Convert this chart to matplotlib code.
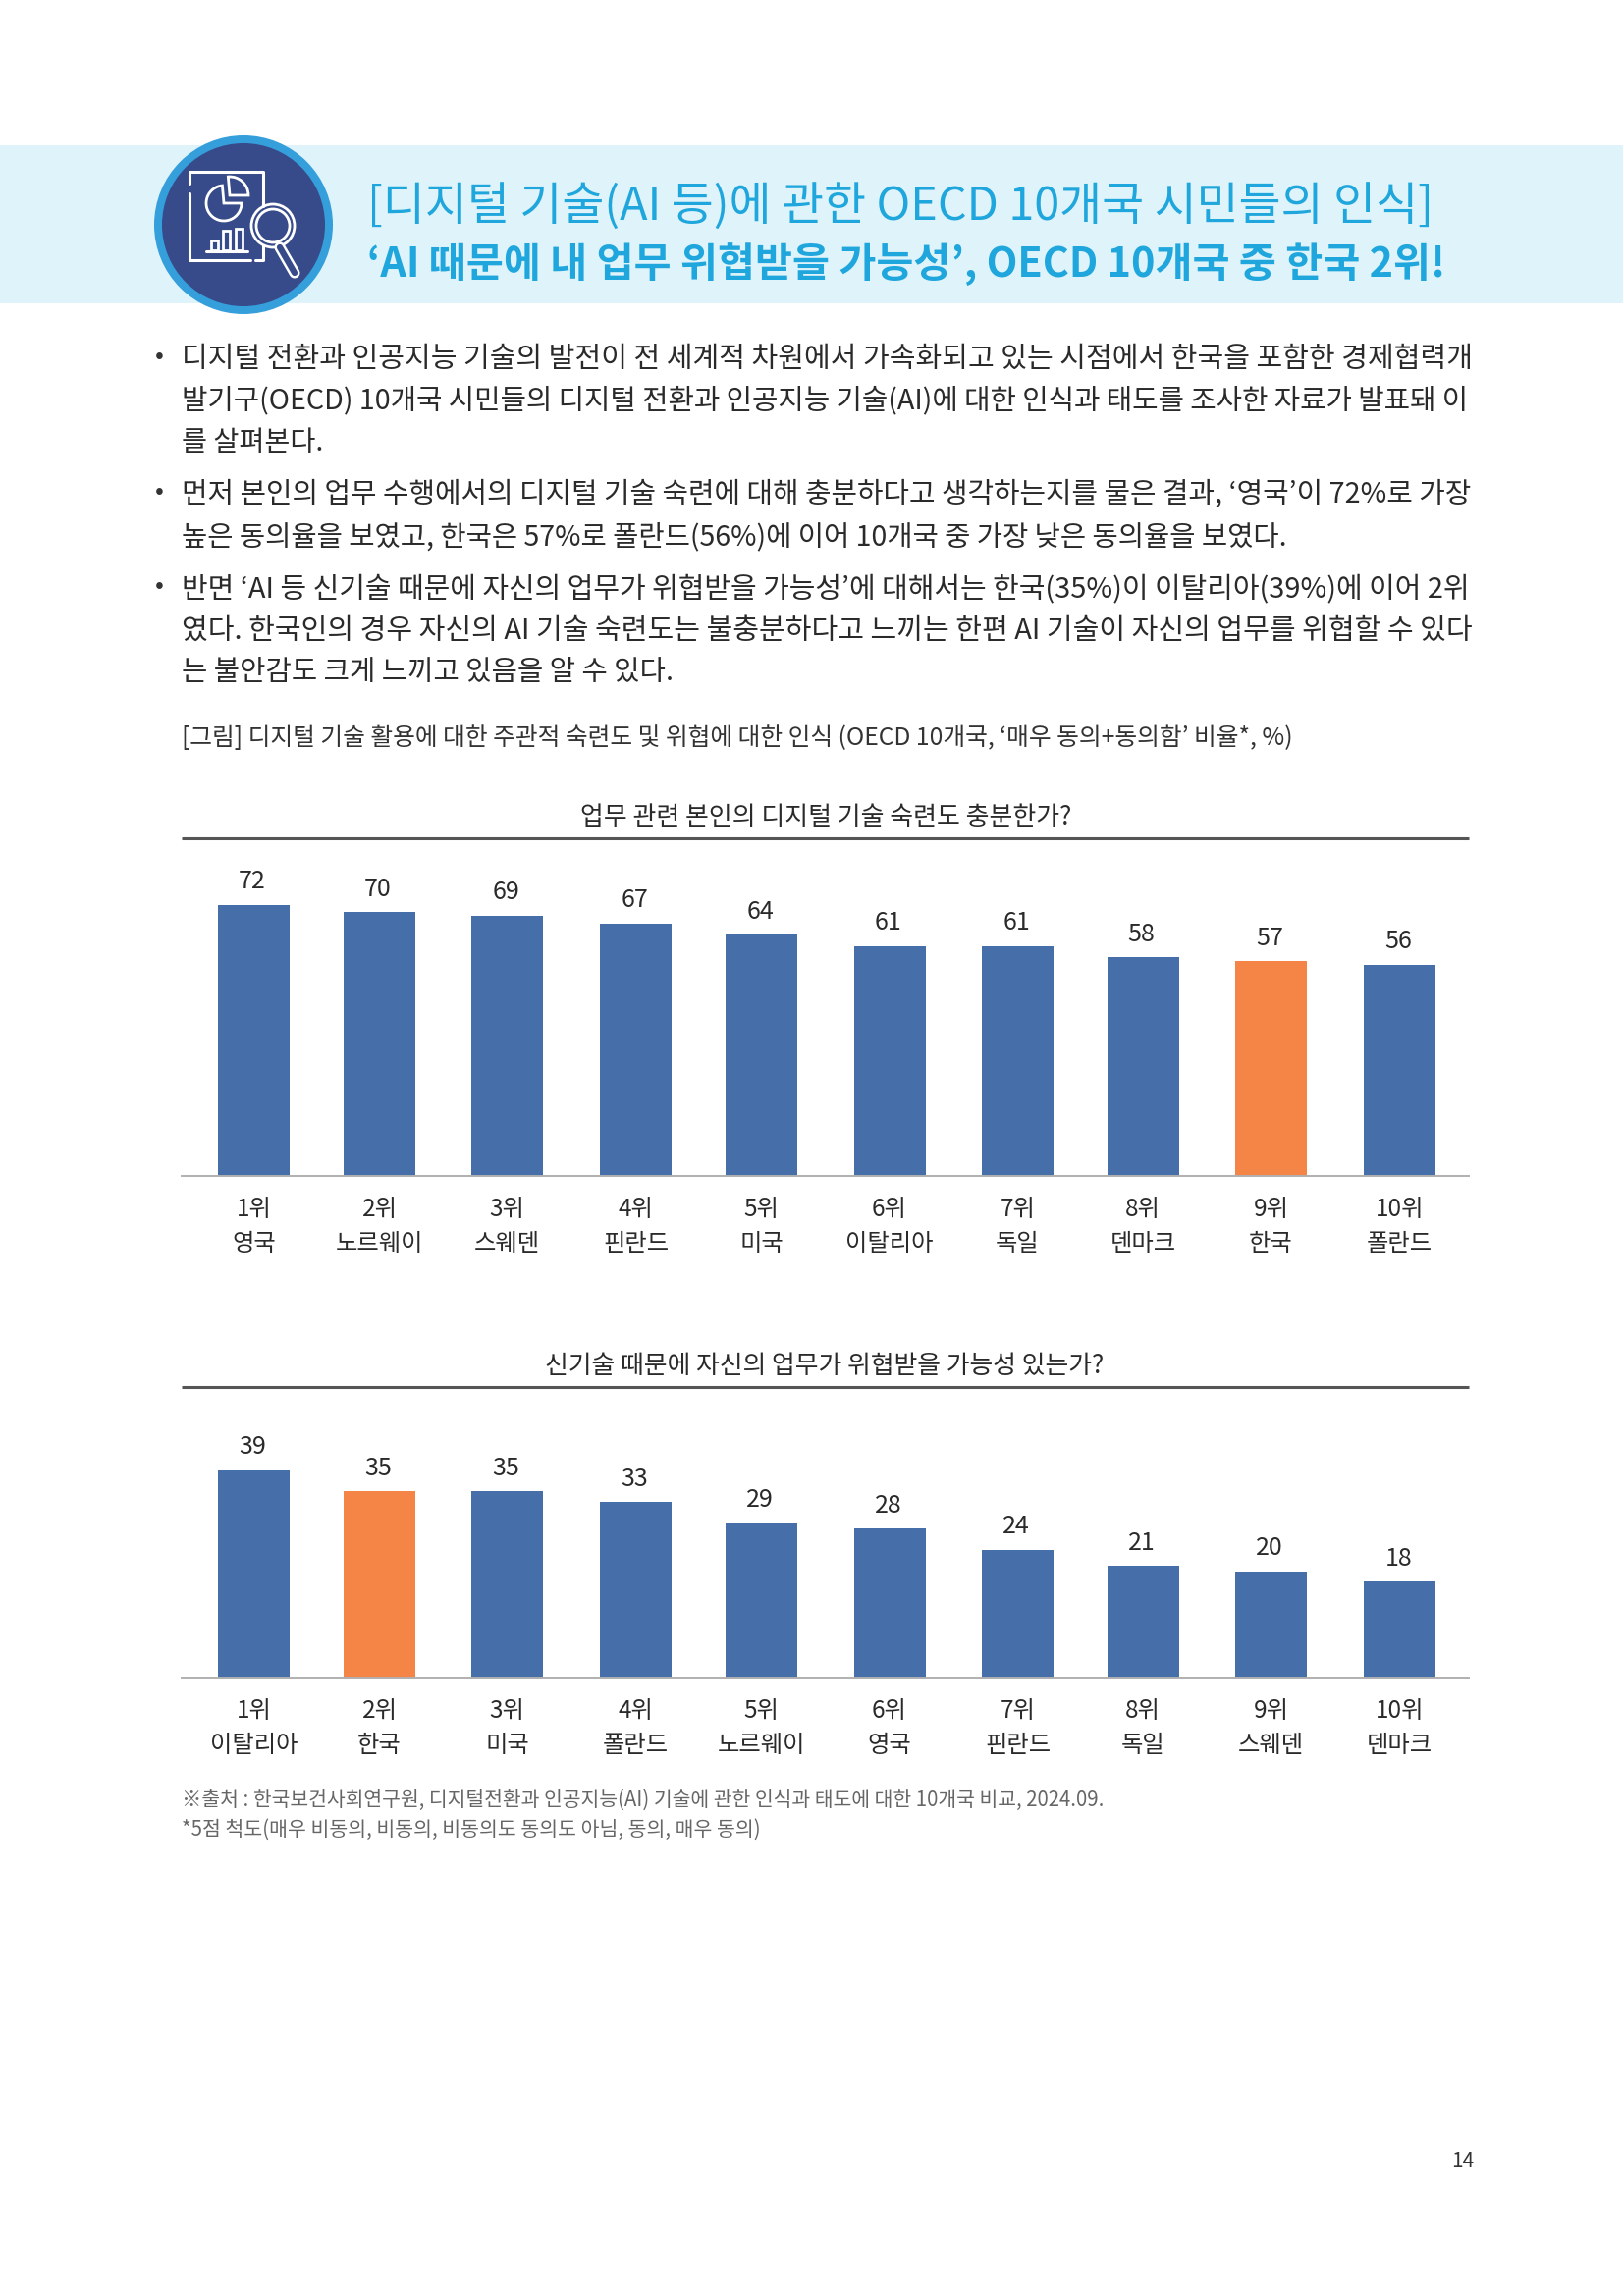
import matplotlib
matplotlib.use('Agg')
import matplotlib.pyplot as plt
from matplotlib.patches import Circle, Rectangle, Wedge

plt.rcParams['font.family'] = ['Noto Sans CJK KR', 'DejaVu Sans']

W, H = 1653, 2339

ranks = ['1위', '2위', '3위', '4위', '5위', '6위', '7위', '8위', '9위', '10위']

countries1 = ['영국', '노르웨이', '스웨덴', '핀란드', '미국', '이탈리아', '독일', '덴마크', '한국', '폴란드']
values1 = [72, 70, 69, 67, 64, 61, 61, 58, 57, 56]

countries2 = ['이탈리아', '한국', '미국', '폴란드', '노르웨이', '영국', '핀란드', '독일', '스웨덴', '덴마크']
values2 = [39, 35, 35, 33, 29, 28, 24, 21, 20, 18]

title1 = '[디지털 기술(AI 등)에 관한 OECD 10개국 시민들의 인식]'
title2 = '‘AI 때문에 내 업무 위협받을 가능성’, OECD 10개국 중 한국 2위!'

body = [
    ('디지털 전환과 인공지능 기술의 발전이 전 세계적 차원에서 가속화되고 있는 시점에서 한국을 포함한 경제협력개', 374, 1497),
    ('발기구(OECD) 10개국 시민들의 디지털 전환과 인공지능 기술(AI)에 대한 인식과 태도를 조사한 자료가 발표돼 이', 416, 1497),
    ('를 살펴본다.', 459, 329),
    ('먼저 본인의 업무 수행에서의 디지털 기술 숙련에 대해 충분하다고 생각하는지를 물은 결과, ‘영국’이 72%로 가장', 512, 1497),
    ('높은 동의율을 보였고, 한국은 57%로 폴란드(56%)에 이어 10개국 중 가장 낮은 동의율을 보였다.', 555, 1311),
    ('반면 ‘AI 등 신기술 때문에 자신의 업무가 위협받을 가능성’에 대해서는 한국(35%)이 이탈리아(39%)에 이어 2위', 608, 1497),
    ('였다. 한국인의 경우 자신의 AI 기술 숙련도는 불충분하다고 느끼는 한편 AI 기술이 자신의 업무를 위협할 수 있다', 651, 1497),
    ('는 불안감도 크게 느끼고 있음을 알 수 있다.', 693, 685),
]
caption = '[그림] 디지털 기술 활용에 대한 주관적 숙련도 및 위협에 대한 인식 (OECD 10개국, ‘매우 동의+동의함’ 비율*, %)'
chart_title1 = '업무 관련 본인의 디지털 기술 숙련도 충분한가?'
chart_title2 = '신기술 때문에 자신의 업무가 위협받을 가능성 있는가?'
source1 = '※출처 : 한국보건사회연구원, 디지털전환과 인공지능(AI) 기술에 관한 인식과 태도에 대한 10개국 비교, 2024.09.'
source2 = '*5점 척도(매우 비동의, 비동의, 비동의도 동의도 아님, 동의, 매우 동의)'

# bar slots are not quite even in the page, in pixels
slot_centers = [258.5, 386.5, 516.5, 647.5, 775.5, 906, 1036.5, 1164, 1294.5, 1425.5]

BLUE = '#466ea8'
ORANGE = '#f58546'

fig = plt.figure(figsize=(16.53, 23.39), dpi=100)
fig.patch.set_facecolor('white')

# page layer in pixel coordinates
page = fig.add_axes([0, 0, 1, 1], zorder=0)
page.set_xlim(0, W)
page.set_ylim(H, 0)
page.axis('off')


def fit_text(x0, x1, y, s, color, size=20, weight='light'):
    # shrink or grow the font so the line ends where it does in the page
    t = page.text(x0, y, s, color=color, fontsize=size, fontweight=weight, ha='left', va='baseline')
    ext = t.get_window_extent(fig.canvas.get_renderer())
    t.set_fontsize(size * (x1 - x0) / ext.width)
    return t


# header band and icon
page.add_patch(Rectangle((0, 148), W, 161, color='#dff3fa', lw=0))
page.add_patch(Circle((248, 229), 91, color='#359fdb', lw=0))
page.add_patch(Circle((248, 229), 83, color='#374a89', lw=0))
ic = dict(color='white', lw=2.2, solid_capstyle='round')
page.plot([193, 193, 268, 268], [187, 175, 175, 210], **ic)
page.plot([193, 193, 255], [197, 265, 265], **ic)
page.plot([260, 268, 268], [265, 265, 250], **ic)
page.add_patch(Wedge((228, 207), 18, 0, 265, fill=False, ec='white', lw=2))
page.add_patch(Wedge((234, 199), 19, 265, 360, fill=False, ec='white', lw=2))
for bx, bt in zip([215, 227, 240], [245, 235, 233]):
    page.add_patch(Rectangle((bx, bt), 7, 255 - bt, fill=False, ec='white', lw=2))
page.plot([210, 252], [256, 256], **ic)
page.plot([285, 300], [252, 278], color='white', lw=8, solid_capstyle='round')
page.plot([285, 300], [252, 278], color='#374a89', lw=4.5, solid_capstyle='round')
page.add_patch(Circle((278, 230), 22, fc='#374a89', ec='white', lw=2))
page.add_patch(Circle((278, 230), 17, fc='#374a89', ec='white', lw=2))

fit_text(374, 1459, 224, title1, '#1fa6dc', size=36)
fit_text(374, 1472, 282, title2, '#1fa6dc', size=32, weight='bold')

for y in [363, 501, 597]:
    page.text(162, y, '•', color='#333333', fontsize=19, ha='center', va='center')
for s, y, x1 in body:
    fit_text(185, x1, y, s, '#2a2a2a')

fit_text(185, 1319, 759, caption, '#333333', size=17)
fit_text(591, 1091, 840, chart_title1, '#2a2a2a', size=19)
fit_text(555, 1125, 1399, chart_title2, '#2a2a2a', size=19)
fit_text(185, 1125, 1840, source1, '#666666', size=15)
fit_text(185, 773, 1870, source2, '#666666', size=15)
page.text(1490, 2202, '14', color='#333333', fontsize=15, fontweight='light', ha='center', va='center')

page.plot([185, 1496], [854, 854], color='#555555', lw=2.2, solid_capstyle='butt')
page.plot([185, 1496], [1413, 1413], color='#555555', lw=2.2, solid_capstyle='butt')


def draw_chart(y_top, y_base, px_per_unit, values, countries, highlight):
    ax = fig.add_axes([185 / W, 1 - y_base / H, (1496 - 185) / W, (y_base - y_top) / H], zorder=1)
    ax.patch.set_alpha(0)
    colors = [ORANGE if i == highlight else BLUE for i in range(len(values))]
    bars = ax.bar(slot_centers, values, width=73, color=colors)
    ax.set_xlim(185, 1496)
    ax.set_ylim(0, (y_base - y_top) / px_per_unit)
    for b, v in zip(bars, values):
        ax.annotate(str(v), (b.get_x() + b.get_width() / 2, v), xytext=(-1, 17), textcoords='offset points',
                    ha='center', va='center', fontsize=18, fontweight='light', color='#2a2a2a')
    ax.set_xticks(slot_centers)
    ax.set_xticklabels([f'{r}\n{c}' for r, c in zip(ranks, countries)], fontsize=17.5, fontweight='light',
                       color='#2a2a2a', linespacing=1.45)
    ax.tick_params(axis='x', length=0, pad=15)
    ax.set_yticks([])
    for side in ['top', 'left', 'right']:
        ax.spines[side].set_visible(False)
    ax.spines['bottom'].set_color('#b0b0b0')
    ax.spines['bottom'].set_linewidth(1.4)
    return ax


draw_chart(860, 1198, 3.84, values1, countries1, 8)
draw_chart(1420, 1709, 5.42, values2, countries2, 1)

fig.savefig('out.png', dpi=100)
